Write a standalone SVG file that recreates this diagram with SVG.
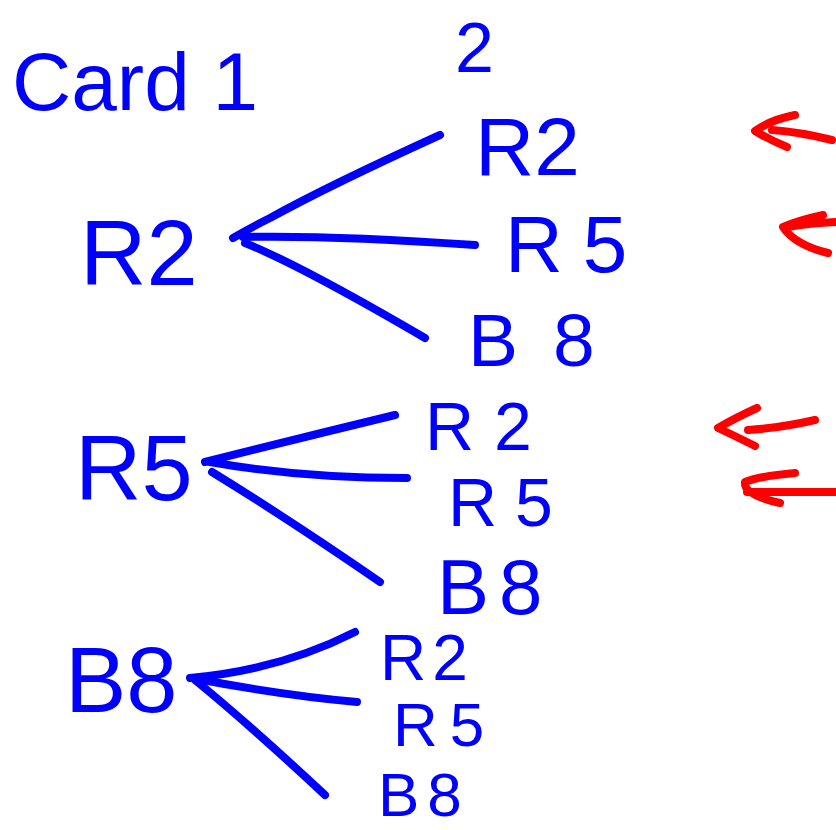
<svg xmlns="http://www.w3.org/2000/svg" width="836" height="830" viewBox="0 0 836 830">
<style>
text{font-family:"Liberation Sans","DejaVu Sans",sans-serif;fill:#0000FF}
.e{fill:none;stroke:#0000FF;stroke-width:8;stroke-linecap:round;stroke-linejoin:round}
.a{fill:none;stroke:#FF0000;stroke-width:8;stroke-linecap:round;stroke-linejoin:round}
</style>
<rect width="836" height="830" fill="#FFFFFF"/>
<g id="title"><text x="12" y="110" font-size="82">Card 1</text></g>
<g id="title2"><text x="455" y="72" font-size="70">2</text></g>
<g id="c1-R2"><text x="80" y="285" font-size="92">R2</text></g>
<g id="c1-R5"><text x="75" y="500" font-size="92">R5</text></g>
<g id="c1-B8"><text x="65" y="712" font-size="92">B8</text></g>
<g id="r2-R2"><text x="475" y="175" font-size="82">R2</text></g>
<g id="r2-R5"><text x="505" y="272" font-size="80" letter-spacing="20">R5</text></g>
<g id="r2-B8"><text x="468" y="366" font-size="75" letter-spacing="35">B8</text></g>
<g id="r5-R2"><text x="425" y="450" font-size="68" letter-spacing="20">R2</text></g>
<g id="r5-R5"><text x="448" y="526" font-size="68" letter-spacing="18">R5</text></g>
<g id="r5-B8"><text x="437" y="614" font-size="78" letter-spacing="10">B8</text></g>
<g id="b8-R2"><text x="380" y="680" font-size="64" letter-spacing="6">R2</text></g>
<g id="b8-R5"><text x="393" y="746" font-size="62" letter-spacing="12">R5</text></g>
<g id="b8-B8"><text x="378" y="816" font-size="62" letter-spacing="8">B8</text></g>
<g id="connectors">
<path class="e" d="M233,238 Q250,228 270,218 Q330,185 440,135"/>
<path class="e" d="M243,237 Q330,235 475,245"/>
<path class="e" d="M245,243 Q300,265 425,338"/>
<path class="e" d="M205,462 Q300,438 395,415"/>
<path class="e" d="M210,462 Q300,478 407,478"/>
<path class="e" d="M212,472 Q290,520 380,582"/>
<path class="e" d="M190,678 Q280,670 355,632"/>
<path class="e" d="M192,678 Q280,695 357,702"/>
<path class="e" d="M195,680 Q250,725 325,795"/>
</g>
<g id="arrows">
<path class="a" d="M772,130 Q800,132 832,140"/>
<path class="a" d="M795,115 Q770,120 755,131 Q770,140 787,147"/>
<path class="a" d="M787,227 Q810,223 836,222"/>
<path class="a" d="M823,215 Q800,220 783,227 Q795,245 828,253"/>
<path class="a" d="M748,430 Q780,428 815,420"/>
<path class="a" d="M757,408 Q735,418 718,428 Q735,436 755,446"/>
<path class="a" d="M747,492 L836,492"/>
<path class="a" d="M795,473 Q760,476 745,482 Q743,495 780,503"/>
</g>
</svg>
